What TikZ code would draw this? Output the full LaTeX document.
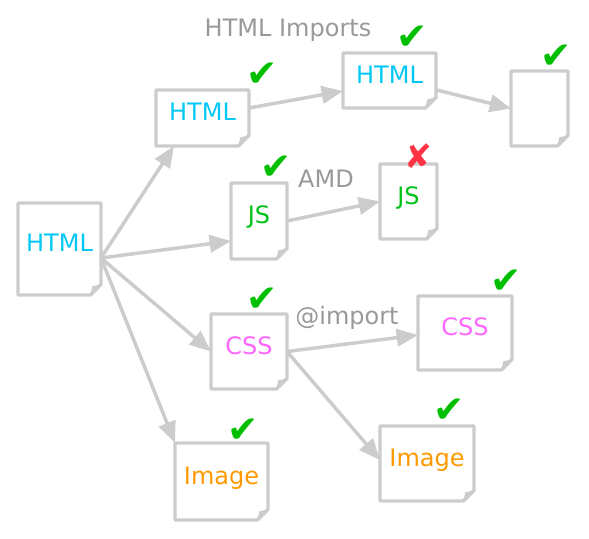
\documentclass[tikz,border=0pt]{standalone}
\usepackage{fontspec}
\setmainfont{DejaVu Sans}
\usetikzlibrary{arrows.meta}
\definecolor{docline}{HTML}{CCCCCC}
\definecolor{htmlc}{HTML}{00C8F5}
\definecolor{jsc}{HTML}{00C21A}
\definecolor{cssc}{HTML}{FF66FF}
\definecolor{imgc}{HTML}{FF9900}
\definecolor{notec}{HTML}{999999}
\definecolor{okc}{HTML}{00BF00}
\definecolor{badc}{HTML}{FF3344}

\begin{document}
\begin{tikzpicture}[x=0.75pt, y=-0.75pt, font=\fontsize{18}{21}\selectfont,
  doc/.style 2 args={rectangle, inner sep=0pt, outer sep=0pt,
    minimum width=#1*0.75pt, minimum height=#2*0.75pt,
    append after command={\pgfextra{
      \draw[docline, line width=2.6pt, line join=round]
        (\tikzlastnode.north west) -- (\tikzlastnode.north east)
        -- ([yshift=8pt]\tikzlastnode.south east)
        -- ([xshift=-8pt]\tikzlastnode.south east)
        -- (\tikzlastnode.south west) -- cycle;
      \fill[docline] ([yshift=8pt]\tikzlastnode.south east)
        -- ([xshift=-8pt]\tikzlastnode.south east)
        -- ([xshift=-6.5pt, yshift=6.5pt]\tikzlastnode.south east) -- cycle;}}},
  doctext/.style={text height=13pt, text depth=0pt, yshift=4.5pt},
  note/.style={text=notec, text height=13pt, text depth=0pt, inner sep=0pt},
  link/.style={docline, line width=2.6pt, -{Triangle[length=16pt, width=13pt]}},
  ok/.style={text=okc, font=\fontsize{28}{28}\selectfont, inner sep=0pt},
  bad/.style={text=badc, font=\fontsize{25}{25}\selectfont, inner sep=0pt}]
  \useasboundingbox (0,0) rectangle (589,539);

  % documents
  \node[doc={83}{92}, label={[doctext, text=htmlc]center:HTML}] (page) at (59.5,249) {};
  \node[doc={93}{56}, label={[doctext, text=htmlc]center:HTML}] (imp1) at (202.5,118) {};
  \node[doc={93}{55}, label={[doctext, text=htmlc]center:HTML}] (imp2) at (389.5,80.5) {};
  \node[doc={57}{75}] (imp3) at (539.5,108.5) {};
  \node[doc={56}{76}, label={[doctext, text=jsc]center:JS}] (js1) at (259,221) {};
  \node[doc={57}{75}, label={[doctext, text=jsc]center:JS}] (js2) at (408.5,201.5) {};
  \node[doc={76}{75}, label={[doctext, text=cssc]center:CSS}] (css1) at (249,351.5) {};
  \node[doc={94}{74}, label={[doctext, text=cssc]center:CSS}] (css2) at (465,333) {};
  \node[doc={93}{77}, label={[doctext, text=imgc]center:Image}] (img1) at (221.5,481.5) {};
  \node[doc={94}{75}, label={[doctext, text=imgc]center:Image}] (img2) at (427,463.5) {};

  % loading
  \coordinate (hub) at ([yshift=-6.75pt]page.east);
  \draw[link] (hub) -- ([xshift=13.5pt]imp1.south west);
  \draw[link] (hub) -- ([yshift=-15pt]js1.west);
  \draw[link] (hub) -- (css1.west);
  \draw[link] (hub) -- (img1.north west);
  \draw[link] ([yshift=7.5pt]imp1.east) -- ([yshift=-7.9pt]imp2.west);
  \draw[link] ([yshift=-7pt]imp2.east) -- (imp3.west);
  \draw[link] (js1.east) -- (js2.west);
  \draw[link] (css1.east) -- ([yshift=-1.5pt]css2.west);
  \draw[link] (css1.east) -- ([yshift=2.5pt]img2.west);

  % notes
  \node[note] (imports) at (288,28) {HTML Imports};
  \node[note] (amd) at (326,178.5) {AMD};
  \node[note] (atimport) at (347,315.5) {@import};

  % status marks
  \node[ok] (ok-imp1) at (262,75) {✔};
  \node[ok] (ok-imp2) at (412,38) {✔};
  \node[ok] (ok-imp3) at (556,57) {✔};
  \node[ok] (ok-js1) at (276,168) {✔};
  \node[bad] (bad-js2) at (418,156) {✘};
  \node[ok] (ok-css1) at (262,300) {✔};
  \node[ok] (ok-css2) at (506,282) {✔};
  \node[ok] (ok-img1) at (243,431) {✔};
  \node[ok] (ok-img2) at (449,411) {✔};
\end{tikzpicture}
\end{document}
